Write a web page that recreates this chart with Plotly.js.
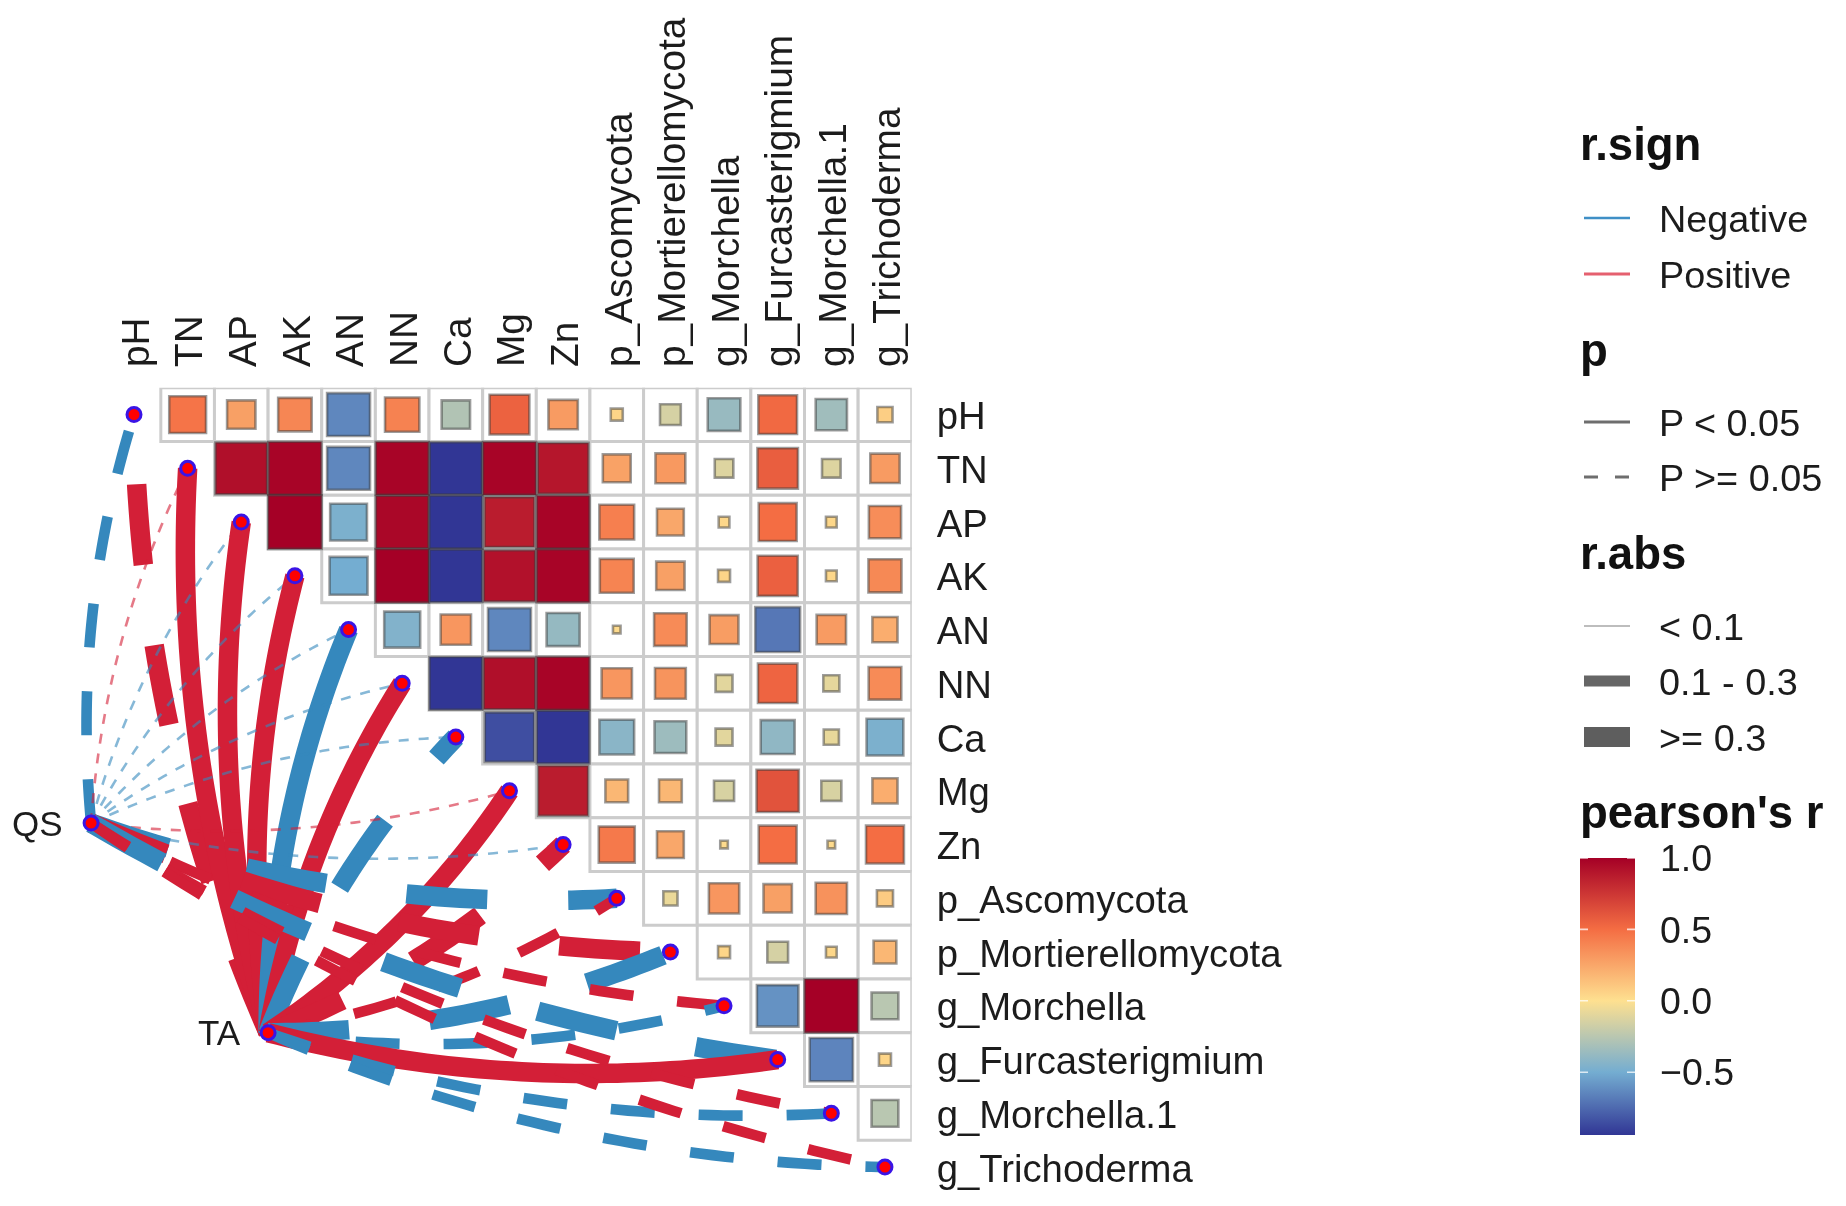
<!DOCTYPE html>
<html>
<head>
<meta charset="utf-8">
<script src="https://cdn.plot.ly/plotly-3.0.1.min.js"></script>
<style>html,body{margin:0;padding:0;background:#fff}#chart{width:1846px;height:1206px;filter:blur(0.7px)}</style>
</head>
<body>
<div id="chart"></div>
<script>
// ---------- data ----------
const variables = ["pH","TN","AP","AK","AN","NN","Ca","Mg","Zn","p_Ascomycota","p_Mortierellomycota","g_Morchella","g_Furcasterigmium","g_Morchella.1","g_Trichoderma"];
// upper triangle of the correlation matrix: each row starts just right of the diagonal
const rowPH  = [0.47,0.28,0.39,-0.64,0.41,-0.28,0.55,0.30,0.05,-0.15,-0.37,0.52,-0.34,0.08];
const rowTN  = [0.93,0.98,-0.64,0.98,-0.95,0.98,0.90,0.27,0.31,-0.12,0.57,-0.12,0.30];
const rowAP  = [1.00,-0.47,0.97,-0.98,0.87,0.98,0.42,0.25,0.04,0.50,0.04,0.36];
const rowAK  = [-0.50,1.00,-0.97,0.92,0.98,0.40,0.28,0.05,0.56,0.04,0.38];
const rowAN  = [-0.45,0.32,-0.64,-0.38,0.02,0.37,0.29,-0.70,0.30,0.22];
const rowNN  = [-0.97,0.93,0.98,0.32,0.33,-0.10,0.54,-0.09,0.37];
const rowCa  = [-0.85,-0.97,-0.42,-0.35,-0.10,-0.40,-0.08,-0.47];
const rowMg  = [0.87,0.18,0.18,-0.14,0.62,-0.14,0.22];
const rowZn  = [0.45,0.25,0.02,0.50,0.02,0.50];
const rowAsc = [-0.07,0.32,0.28,0.34,0.09];
const rowMor = [0.05,-0.15,0.04,0.18];
const rowGMo = [-0.60,1.00,-0.25];
const rowGFu = [-0.65,0.05];
const rowGM1 = [-0.25];
const rows = [rowPH,rowTN,rowAP,rowAK,rowAN,rowNN,rowCa,rowMg,rowZn,rowAsc,rowMor,rowGMo,rowGFu,rowGM1];

// links: sign (+1 positive, -1 negative), significance (1 P<0.05, 0 P>=0.05), strength class (0 <0.1, 1 0.1-0.3, 2 >=0.3)
const specNames = ["QS","TA"];
const qsSign  = [-1, 1,-1,-1,-1,-1,-1, 1,-1,-1, 1, 1,-1, 1, 1];
const qsSig   = [ 0, 0, 0, 0, 0, 0, 0, 0, 0, 0, 0, 0, 0, 0, 0];
const qsClass = [ 1, 0, 0, 0, 0, 0, 0, 0, 0, 2, 2, 1, 2, 1, 1];
const taSign  = [ 1, 1, 1, 1,-1, 1,-1, 1, 1, 1,-1,-1, 1,-1,-1];
const taSig   = [ 0, 1, 1, 1, 1, 1, 0, 1, 0, 0, 0, 0, 1, 0, 0];
const taClass = [ 2, 2, 2, 2, 2, 2, 2, 2, 2, 1, 2, 1, 2, 1, 1];
// node locations on the variable index scale
const specX = [-0.8, 2.5];
const specY = [ 7.6, 11.5];

const colorTicks = [-0.5, 0, 0.5, 1];
const colorTickText = ["\u22120.5","0.0","0.5","1.0"];
const signLegend = ["Negative","Positive"];
const pLegend = ["P < 0.05","P >= 0.05"];
const absLegend = ["< 0.1","0.1 - 0.3",">= 0.3"];

// ---------- styling ----------
const W = 1846, H = 1206;
const FONT = "Liberation Sans, Arial, sans-serif";
const INK = "#1c1c1c";
const RED = "#D31F37", BLUE = "#3588BD";
const WIDTHS = [2.6, 10.6, 19.5];
const DASHES = ["10px,10px", "44px,44px", "81px,81px"];
const CELLW = 53.64, CELLH = 53.75, X0 = 134, Y0 = 414.6;
const CMIN = -0.94, CMAX = 1;
const norm = v => (v - CMIN) / (CMAX - CMIN);
const colorscale = [[0,"#313695"],[norm(-0.5),"#74ADD1"],[norm(0),"#FEE090"],[norm(0.5),"#F46D43"],[1,"#A50026"]];
const px = x => x / W, py = y => 1 - y / H;

// ---------- traces ----------
const traces = [];
function curve(sx, sy, ex, ey, flip) {
  const dx = ex - sx, dy = ey - sy, k = 0.1 * (flip ? -1 : 1);
  const cx = (sx + ex) / 2 + k * dy, cy = (sy + ey) / 2 - k * dx;
  const xs = [], ys = [];
  for (let i = 0; i <= 48; i++) {
    const t = i / 48, u = 1 - t;
    xs.push(u*u*sx + 2*u*t*cx + t*t*ex);
    ys.push(u*u*sy + 2*u*t*cy + t*t*ey);
  }
  return [xs, ys];
}
function addLink(s, v, sign, sig, cls) {
  const [xs, ys] = curve(specX[s], specY[s], v, v, v >= 7);
  traces.push({
    type: "scatter", mode: "lines", x: xs, y: ys, xaxis: "x", yaxis: "y",
    name: specNames[s] + " - " + variables[v], showlegend: false, hoverinfo: "name",
    opacity: cls === 0 ? 0.6 : 1,
    line: { color: sign > 0 ? RED : BLUE, width: WIDTHS[cls], dash: sig ? "solid" : DASHES[cls], shape: "linear", simplify: false }
  });
}
variables.forEach((_, v) => {
  addLink(0, v, qsSign[v], qsSig[v], qsClass[v]);
  addLink(1, v, taSign[v], taSig[v], taClass[v]);
});
// nodes
const nodeX = specX.concat(variables.map((_, i) => i));
const nodeY = specY.concat(variables.map((_, i) => i));
traces.push({
  type: "scatter", mode: "markers", x: nodeX, y: nodeY, xaxis: "x", yaxis: "y", showlegend: false, hoverinfo: "skip",
  marker: { symbol: "circle", size: 14, opacity: 1, color: "#FF0000", line: { color: "#3A14E6", width: 3 } }
});
// tiles
const tileX = [], tileY = [], tileR = [];
rows.forEach((row, i) => row.forEach((r, k) => {
  tileX.push(variables[i + 1 + k]); tileY.push(variables[i]); tileR.push(r);
}));
traces.push({
  type: "scatter", mode: "markers", x: tileX, y: tileY, xaxis: "x2", yaxis: "y2", showlegend: false, hoverinfo: "skip",
  marker: { symbol: "square", size: CELLW, opacity: 1, color: "#FFFFFF", line: { color: "#CCCCCC", width: 3 } }
});
traces.push({
  type: "scatter", mode: "markers", x: tileX, y: tileY, xaxis: "x2", yaxis: "y2", showlegend: false,
  marker: {
    symbol: "square", size: tileR.map(r => CELLW * Math.sqrt(Math.abs(r))), opacity: 1,
    color: tileR, cmin: CMIN, cmax: CMAX, colorscale: colorscale,
    line: { color: "rgba(60,60,60,0.5)", width: 2.6 },
    colorbar: {
      x: px(1580), xanchor: "left", xpad: 0, y: py(858), yanchor: "top", ypad: 0,
      thicknessmode: "pixels", thickness: 55, lenmode: "pixels", len: 277,
      outlinewidth: 0, borderwidth: 0,
      tickmode: "array", tickvals: colorTicks, ticktext: colorTickText,
      ticks: "outside", ticklen: 18, tickcolor: "rgba(0,0,0,0)",
      tickfont: { family: FONT, size: 37.5, color: INK }
    }
  }
});
// carrier for the axis labels (their axes sit a hair off the tile axes, as the labels do in the picture)
traces.push({
  type: "scatter", mode: "markers", x: variables, y: variables, xaxis: "x3", yaxis: "y3", showlegend: false, hoverinfo: "skip",
  marker: { size: 1, opacity: 0 }
});

// ---------- legends (annotations + shapes) ----------
const annotations = [], shapes = [];
const bold = (text, y) => annotations.push({ xref: "paper", yref: "paper", x: px(1578), y: py(y), xanchor: "left", yanchor: "middle", showarrow: false, text: "<b>" + text + "</b>", font: { family: FONT, size: 45.5, color: "#111" } });
const label = (text, y) => annotations.push({ xref: "paper", yref: "paper", x: px(1657), y: py(y), xanchor: "left", yanchor: "middle", showarrow: false, text: text, font: { family: FONT, size: 37.8, color: INK } });
const key = (y, color, width, dash) => shapes.push({ type: "line", xref: "paper", yref: "paper", x0: px(1584), x1: px(1630), y0: py(y), y1: py(y), line: { color, width, dash: dash || "solid" } });

bold("r.sign", 145);
label(signLegend[0], 219); key(218, "#3F8FC6", 2.6);
label(signLegend[1], 275); key(274, "#E5606F", 3);
bold("p", 350);
label(pLegend[0], 423); key(422, "#6E6E6E", 3);
label(pLegend[1], 478); key(477, "#6E6E6E", 3, "14px,17px");
bold("r.abs", 553);
label(absLegend[0], 627); key(626, "#BDBDBD", 2);
label(absLegend[1], 682); key(681, "#666666", 11);
label(absLegend[2], 738); key(737, "#5E5E5E", 20);
bold("pearson's r", 812);

// white colour-bar ticks on both sides
const BAR_L = 1580, BAR_R = 1635, BAR_T = 858, BAR_H = 277;
colorTicks.forEach(v => {
  const yy = py(BAR_T + (CMAX - v) / (CMAX - CMIN) * BAR_H);
  [[BAR_L, 11], [BAR_R, -11]].forEach(([xx, ax]) => annotations.push({
    xref: "paper", yref: "paper", x: px(xx), y: yy, ax: ax, ay: 0, showarrow: true, arrowhead: 0,
    arrowwidth: 1.6, arrowcolor: "rgba(255,255,255,0.75)", standoff: 0
  }));
});
// node labels
[[0, -26], [1, -25]].forEach(([s, shift]) => annotations.push({
  xref: "x", yref: "y", x: specX[s], y: specY[s], xshift: shift, xanchor: "right", yanchor: "middle",
  showarrow: false, text: specNames[s], font: { family: FONT, size: 35, color: INK }
}));

// ---------- layout ----------
const n = variables.length;
const hiddenCat = { type: "category", categoryorder: "array", categoryarray: variables, range: [-0.5, n - 0.5], showticklabels: false, ticks: "", showgrid: false, zeroline: false, showline: false };
const shiftX = 2.2, shiftY = 1;
const layout = {
  width: W, height: H, paper_bgcolor: "#fff", plot_bgcolor: "rgba(0,0,0,0)", hovermode: false,
  margin: { l: 0, r: 0, t: 0, b: 0, autoexpand: false },
  showlegend: false,
  xaxis: { visible: false, domain: [0, 1], range: [-X0 / CELLW, (W - X0) / CELLW], anchor: "y" },
  yaxis: { visible: false, domain: [0, 1], range: [(H - Y0) / CELLH, -Y0 / CELLH], anchor: "x" },
  xaxis2: Object.assign({}, hiddenCat, { domain: [px(X0 - CELLW / 2), px(X0 + (n - 0.5) * CELLW)], anchor: "y2" }),
  yaxis2: Object.assign({}, hiddenCat, { domain: [py(Y0 + (n - 0.5) * CELLH), py(Y0 - CELLH / 2)], anchor: "x2", range: [n - 0.5, -0.5] }),
  xaxis3: {
    domain: [px(X0 - CELLW / 2 + shiftX), px(X0 + (n - 0.5) * CELLW + shiftX)], anchor: "y3", side: "top",
    type: "category", categoryorder: "array", categoryarray: variables, range: [-0.5, n - 0.5],
    tickmode: "array", tickvals: variables, ticktext: variables, tickangle: -90,
    ticks: "outside", ticklen: 13, tickcolor: "rgba(0,0,0,0)", showgrid: false, zeroline: false, showline: false,
    tickfont: { family: FONT, size: 38.8, color: INK }
  },
  yaxis3: {
    domain: [py(Y0 + (n - 0.5) * CELLH + shiftY), py(Y0 - CELLH / 2 + shiftY)], anchor: "x3", side: "right",
    type: "category", categoryorder: "array", categoryarray: variables, range: [n - 0.5, -0.5],
    tickmode: "array", tickvals: variables, ticktext: variables,
    ticks: "outside", ticklen: 14, tickcolor: "rgba(0,0,0,0)", showgrid: false, zeroline: false, showline: false,
    tickfont: { family: FONT, size: 38.3, color: INK }
  },
  annotations, shapes
};
Plotly.newPlot("chart", traces, layout, { displayModeBar: false, staticPlot: true });
</script>
</body>
</html>
